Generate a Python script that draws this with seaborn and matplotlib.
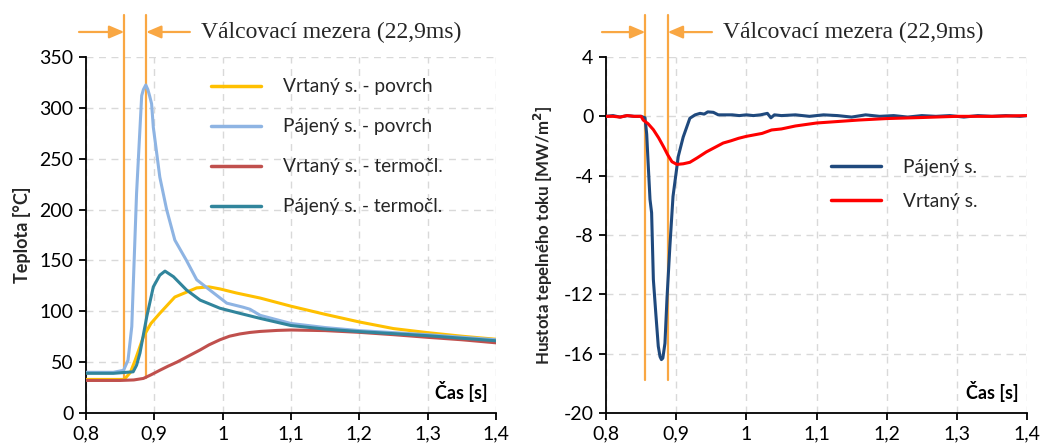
import numpy as np
import pandas as pd
import matplotlib
matplotlib.use("Agg")
import matplotlib.pyplot as plt
import seaborn as sns

# ---- data: surface / thermocouple temperatures [°C] ----
t_vrt_povrch = [0.80, 0.83, 0.856, 0.865, 0.872, 0.884, 0.895, 0.908, 0.930, 0.962,
                0.980, 0.996, 1.020, 1.055, 1.100, 1.150, 1.200, 1.250, 1.300, 1.350, 1.400]
T_vrt_povrch = [33, 33, 33, 40, 52, 75, 88, 98, 114, 123,
                124, 122, 118, 113, 105, 97, 89.5, 83, 79, 75.5, 72.5]

t_paj_povrch = [0.80, 0.84, 0.855, 0.8615, 0.867, 0.874, 0.8815, 0.884, 0.8875, 0.8905,
                0.893, 0.896, 0.8985, 0.908, 0.918, 0.930, 0.947, 0.962, 0.981, 1.006,
                1.030, 1.040, 1.055, 1.100, 1.150, 1.200, 1.250, 1.300, 1.350, 1.400]
T_paj_povrch = [40, 40, 42, 52, 85, 216, 312, 318, 322.5, 318,
                312, 304, 281, 232, 200, 170, 150, 131, 121, 108,
                104, 102, 96, 88, 84, 81, 79, 77, 74.5, 72]

t_vrt_termo = [0.80, 0.85, 0.870, 0.884, 0.895, 0.908, 0.920, 0.933, 0.950, 0.967,
               0.980, 0.996, 1.010, 1.025, 1.040, 1.055, 1.080, 1.100, 1.150, 1.200,
               1.250, 1.300, 1.350, 1.400]
T_vrt_termo = [32, 32, 32.5, 34, 37.5, 42, 46, 50, 56, 62,
               67, 72, 75.5, 77.7, 79.2, 80.2, 81.2, 81.6, 81, 79.3,
               77, 74.4, 72, 69]

t_paj_termo = [0.80, 0.84, 0.869, 0.874, 0.879, 0.884, 0.889, 0.8985, 0.908, 0.9156,
               0.928, 0.947, 0.967, 0.996, 1.025, 1.055, 1.100, 1.150, 1.200, 1.250,
               1.300, 1.350, 1.400]
T_paj_termo = [39, 39, 40.5, 47, 59, 77, 95, 124, 135.5, 139.5,
               134, 121, 111, 103, 98, 93, 86, 82.5, 80, 78,
               76, 73.5, 71]

# ---- data: heat flux density [MW/m2] ----
t_q_paj = [0.80, 0.81, 0.82, 0.83, 0.84, 0.85, 0.8556, 0.858, 0.860, 0.8627,
           0.865, 0.8675, 0.871, 0.8745, 0.877, 0.879, 0.881, 0.884, 0.887, 0.891,
           0.8955, 0.903, 0.910, 0.9195, 0.927, 0.934, 0.940, 0.945, 0.953, 0.960,
           0.970, 0.980, 0.990, 1.000, 1.010, 1.020, 1.030, 1.035, 1.040, 1.050,
           1.070, 1.090, 1.110, 1.130, 1.150, 1.170, 1.190, 1.210, 1.230, 1.250,
           1.270, 1.290, 1.310, 1.330, 1.350, 1.370, 1.390, 1.400]
q_paj = [0.0, 0.05, -0.05, 0.05, 0.0, 0.0, -0.1, -1.2, -3.1, -5.6,
         -6.5, -11.0, -13.3, -15.5, -16.2, -16.4, -16.3, -15.3, -12.2, -8.8,
         -5.4, -2.7, -1.4, -0.13, 0.1, 0.2, 0.15, 0.3, 0.27, 0.1,
         0.1, 0.1, 0.05, 0.1, 0.05, 0.1, 0.2, -0.1, 0.1, 0.05,
         0.1, 0.0, 0.1, 0.05, -0.05, 0.1, 0.0, 0.05, -0.05, 0.05,
         0.0, 0.05, -0.05, 0.05, 0.0, 0.05, 0.0, 0.05]

t_q_vrt = [0.80, 0.81, 0.82, 0.83, 0.84, 0.85, 0.853, 0.860, 0.8675, 0.875,
           0.882, 0.888, 0.894, 0.901, 0.910, 0.9195, 0.930, 0.943, 0.955, 0.967,
           0.978, 0.989, 1.000, 1.0225, 1.036, 1.050, 1.070, 1.100, 1.130, 1.160,
           1.200, 1.250, 1.300, 1.350, 1.400]
q_vrt = [0.0, 0.0, -0.05, 0.05, 0.0, 0.0, -0.25, -0.5, -0.9, -1.45,
         -2.05, -2.6, -3.06, -3.24, -3.2, -3.1, -2.8, -2.4, -2.1, -1.8,
         -1.65, -1.48, -1.35, -1.15, -0.92, -0.85, -0.65, -0.45, -0.35, -0.25,
         -0.15, -0.08, 0.0, 0.0, 0.05]

# roll gap boundaries [s]
gap_start, gap_end = 0.856, 0.888
gap_text = "Válcovací mezera (22,9ms)"

x_ticks = [0.8, 0.9, 1.0, 1.1, 1.2, 1.3, 1.4]
x_ticklabels = ["0,8", "0,9", "1", "1,1", "1,2", "1,3", "1,4"]
T_ticks = [0, 50, 100, 150, 200, 250, 300, 350]
q_ticks = [-20, -16, -12, -8, -4, 0, 4]

temp_labels = ["Vrtaný s. - povrch", "Pájený s. - povrch",
               "Vrtaný s. - termočl.", "Pájený s. - termočl."]
temp_colors = ["#FFC000", "#8EB4E3", "#C0504D", "#31859C"]
flux_labels = ["Pájený s.", "Vrtaný s."]
flux_colors = ["#1F497D", "#FF0000"]
gap_color = "#F9A743"

sns.set_theme(style="white")
plt.rcParams["font.family"] = ["Lato", "DejaVu Sans"]
plt.rcParams["axes.unicode_minus"] = False

temp_df = pd.concat([
    pd.DataFrame({"t": t, "val": v, "serie": name})
    for t, v, name in zip([t_vrt_povrch, t_paj_povrch, t_vrt_termo, t_paj_termo],
                          [T_vrt_povrch, T_paj_povrch, T_vrt_termo, T_paj_termo],
                          temp_labels)
])
flux_df = pd.concat([
    pd.DataFrame({"t": t, "val": v, "serie": name})
    for t, v, name in zip([t_q_paj, t_q_vrt], [q_paj, q_vrt], flux_labels)
])

fig = plt.figure(figsize=(10.43, 4.48), dpi=100)
ax1 = fig.add_axes([86 / 1043, 1 - 413 / 448, 410 / 1043, 356 / 448])
ax2 = fig.add_axes([606 / 1043, 1 - 413 / 448, 421 / 1043, 356 / 448])


def style_axes(ax, yticks, ylim):
    ax.set_xlim(0.8, 1.4)
    ax.set_ylim(*ylim)
    ax.set_xticks(x_ticks)
    ax.set_xticklabels(x_ticklabels)
    ax.set_yticks(yticks)
    ax.grid(True, color="#D9D9D9", linestyle=(0, (5, 4)), linewidth=1.0)
    for s in ["top", "right"]:
        ax.spines[s].set_visible(False)
    for s in ["left", "bottom"]:
        ax.spines[s].set_color("black")
        ax.spines[s].set_linewidth(1.3)
    ax.tick_params(axis="both", direction="out", length=5, width=1.3,
                   color="black", labelsize=14, labelcolor="black",
                   left=True, bottom=True, pad=4)
    ax.set_xlabel("")
    ax.text(0.98, 0.06, "Čas [s]", transform=ax.transAxes, ha="right",
            va="center", fontsize=13, fontweight="bold", color="black")


def draw_gap(ax, y_bottom, y_top, y_arrow, x_left, x_right):
    for xg in (gap_start, gap_end):
        ax.plot([xg, xg], [y_bottom, y_top], color=gap_color, lw=1.6,
                clip_on=False, zorder=1)
    arrow = dict(arrowstyle="-|>,head_length=0.75,head_width=0.32",
                 color=gap_color, lw=1.6, shrinkA=0, shrinkB=0)
    ax.annotate("", xy=(gap_start, y_arrow), xytext=(x_left, y_arrow),
                arrowprops=arrow, annotation_clip=False)
    ax.annotate("", xy=(gap_end, y_arrow), xytext=(x_right, y_arrow),
                arrowprops=arrow, annotation_clip=False)
    ax.text(x_right + 0.016, y_arrow, gap_text, ha="left", va="center",
            fontsize=17, family="Liberation Serif", color="#262626")


# ---- temperatures ----
sns.lineplot(data=temp_df, x="t", y="val", hue="serie", hue_order=temp_labels,
             palette=temp_colors, sort=False, estimator=None, lw=2.2, ax=ax1,
             zorder=3)
style_axes(ax1, T_ticks, (0, 350))
ax1.set_ylabel("Teplota [°C]", fontsize=13, fontweight="bold", labelpad=6)
draw_gap(ax1, 34, 391, 374.6, 0.7898, 0.952)
leg = ax1.legend(frameon=False, fontsize=13.8, handlelength=2.6,
                 handletextpad=1.15, labelspacing=1.2, borderpad=0,
                 borderaxespad=0, loc="upper left",
                 bbox_to_anchor=(0.305, 0.94))
for h in leg.get_lines():
    h.set_linewidth(2.5)

# ---- heat flux ----
sns.lineplot(data=flux_df, x="t", y="val", hue="serie", hue_order=flux_labels,
             palette=flux_colors, sort=False, estimator=None, lw=2.2, ax=ax2,
             zorder=3)
style_axes(ax2, q_ticks, (-20, 4))
ax2.set_ylabel(r"Hustota tepelného toku [MW/m$^\mathbf{2}$]", fontsize=12.2,
               fontweight="bold", labelpad=6)
draw_gap(ax2, -17.8, 6.83, 5.68, 0.7943, 0.951)
leg2 = ax2.legend(frameon=False, fontsize=13.8, handlelength=2.6,
                  handletextpad=1.15, labelspacing=0.9, borderpad=0,
                  borderaxespad=0, loc="upper left",
                  bbox_to_anchor=(0.534, 0.714))
for h in leg2.get_lines():
    h.set_linewidth(2.5)

fig.savefig("out.png", dpi=100)
